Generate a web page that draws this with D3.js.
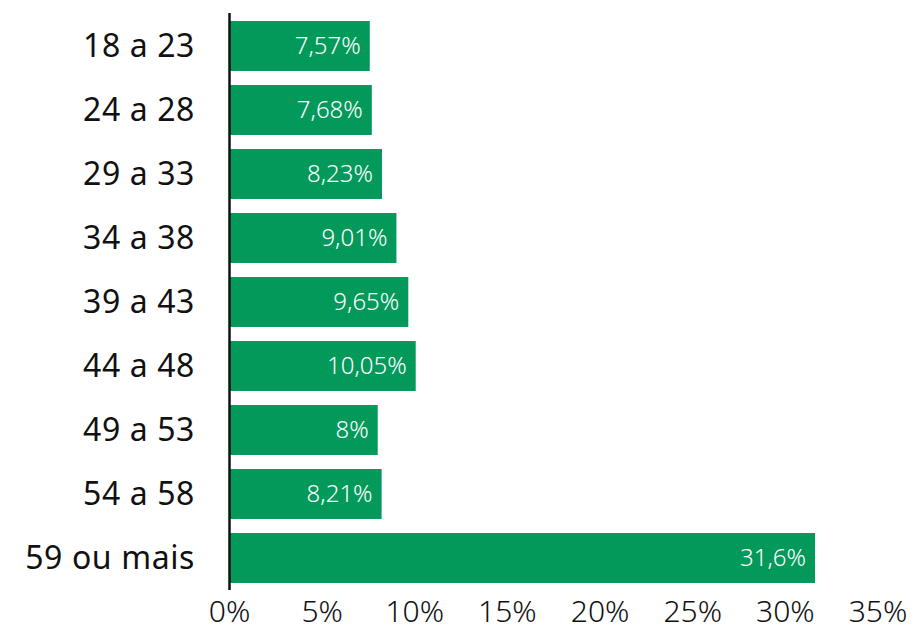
<!DOCTYPE html>
<html>
<head>
    <meta charset="utf-8">
    <style>
        body{ margin: 0; background: white; }
        text{ font-family: "Noto Sans", sans-serif; }
        .cat-label{ font-size: 32px; fill: #111; letter-spacing: 0.6px; }
        .tick-label{ font-size: 30px; fill: #111; font-weight: 300; }
        .val-label{ font-size: 24px; fill: white; font-weight: 300; }
    </style>
</head>
<body>
    <svg class="vis"></svg>

    <script src="https://cdnjs.cloudflare.com/ajax/libs/d3/7.8.5/d3.min.js"></script>
    <script>
        var categories = ["18 a 23", "24 a 28", "29 a 33", "34 a 38", "39 a 43", "44 a 48", "49 a 53", "54 a 58", "59 ou mais"];
        var values = [7.57, 7.68, 8.23, 9.01, 9.65, 10.05, 8, 8.21, 31.6];
        var valueLabels = ["7,57%", "7,68%", "8,23%", "9,01%", "9,65%", "10,05%", "8%", "8,21%", "31,6%"];
        var ticks = [0, 5, 10, 15, 20, 25, 30, 35];

        var width = 914, height = 626;
        var green = "#03995b";

        var vis = d3.select("svg.vis")
            .attr("width", width)
            .attr("height", height);

        var x = d3.scaleLinear().domain([0, 35]).range([229.5, 878]);
        var y = d3.scaleBand().domain(categories).range([14, 590]).paddingInner(0.22).paddingOuter(0.11);

        var rows = categories.map(function(c, i){ return {cat: c, v: values[i], lbl: valueLabels[i]}; });

        vis.selectAll("rect.bar")
            .data(rows)
            .enter().append("rect")
            .attr("class", "bar")
            .attr("x", x(0))
            .attr("y", d => y(d.cat))
            .attr("width", d => x(d.v) - x(0))
            .attr("height", y.bandwidth())
            .attr("fill", green);

        vis.selectAll("text.val-label")
            .data(rows)
            .enter().append("text")
            .attr("class", "val-label")
            .attr("x", d => x(d.v) - 9)
            .attr("y", d => y(d.cat) + y.bandwidth() / 2)
            .attr("dy", "0.32em")
            .attr("text-anchor", "end")
            .text(d => d.lbl);

        vis.selectAll("text.cat-label")
            .data(rows)
            .enter().append("text")
            .attr("class", "cat-label")
            .attr("x", 195)
            .attr("y", d => y(d.cat) + y.bandwidth() / 2)
            .attr("dy", "0.35em")
            .attr("text-anchor", "end")
            .text(d => d.cat);

        vis.selectAll("text.tick-label")
            .data(ticks)
            .enter().append("text")
            .attr("class", "tick-label")
            .attr("x", d => x(d))
            .attr("y", 621.5)
            .attr("text-anchor", "middle")
            .text(d => d + "%");

        vis.append("line")
            .attr("x1", x(0)).attr("x2", x(0))
            .attr("y1", 13).attr("y2", 590)
            .attr("stroke", "#111")
            .attr("stroke-width", 2.5);
    </script>
</body>
</html>
